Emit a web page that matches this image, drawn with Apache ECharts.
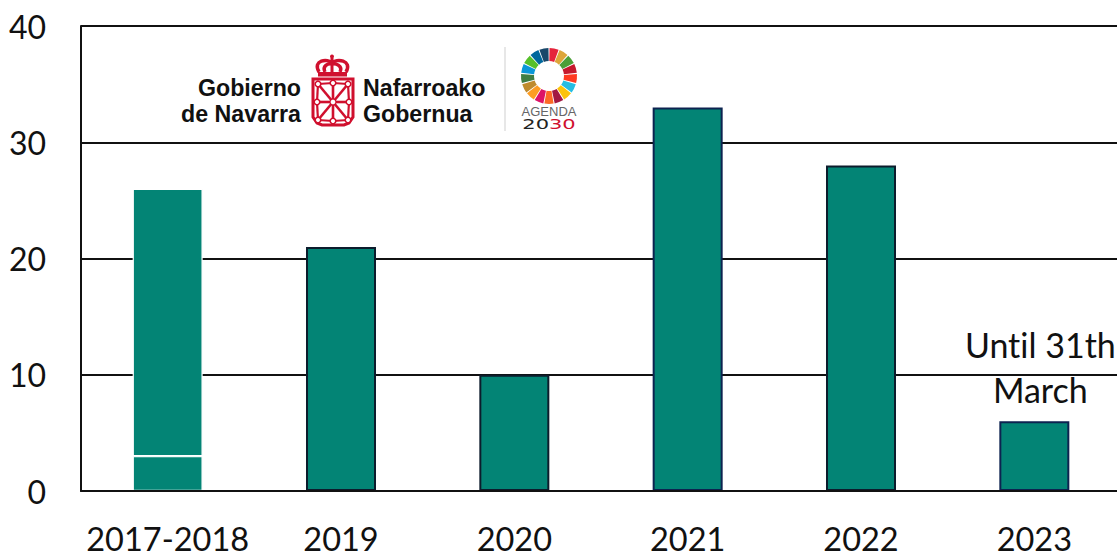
<!DOCTYPE html>
<html>
<head>
<meta charset="utf-8">
<title>Chart</title>
<script src="https://cdn.jsdelivr.net/npm/echarts@6/dist/echarts.min.js"></script>
<style>
html,body{margin:0;padding:0;background:#fff;}
#chart{width:1117px;height:553px;}
#chart text{font-variant-ligatures:none !important;}
</style>
</head>
<body>
<div id="chart"></div>
<script>
var categories = ['2017-2018', '2019', '2020', '2021', '2022', '2023'];
var lowerValues = [3, 21, 10, 33, 28, 6];
var upperValues = [23, null, null, null, null, null];
var borderColors = ['#ffffff', '#0c1c2c', '#0c1c2c', '#0d2350', '#0c1c2c', '#0d2350'];
var noteText = 'Until 31th\nMarch';
var sdgColors = ['#e5243b', '#dda63a', '#4c9f38', '#c5192d', '#ff3a21', '#26bde2', '#fcc30b', '#a21942', '#fd6925', '#dd1367', '#fd9d24', '#bf8b2e', '#3f7e44', '#0a97d9', '#56c02b', '#00689d', '#19486a'];

var teal = '#038475';
var red = '#d0102e';
// svg so the css above can switch off the Lato "ti" ligature
var chart = echarts.init(document.getElementById('chart'), null, {renderer: 'svg'});

function lowerData(){
	return lowerValues.map(function(v, i){
		var item = {value: v, itemStyle: {borderColor: borderColors[i], borderWidth: i == 0 ? 1.2 : 2}};
		if (i == 5){
			item.label = {
				show: true,
				position: 'top',
				offset: [6, -4],
				formatter: noteText,
				fontFamily: 'Lato',
				fontSize: 34,
				lineHeight: 45,
				color: '#111'
			};
		}
		return item;
	});
}

// logo, drawn as decoration above the plot
function logoParts(){
	var parts = [];
	var z = 10;
	function logoText(text, x, y, align){
		parts.push({type: 'text', z: z, style: {text: text, x: x, y: y, textAlign: align, textVerticalAlign: 'bottom',
			font: 'bold 23.2px "Liberation Sans"', fill: '#111'}});
	}
	logoText('Gobierno', 301, 99, 'right');
	logoText('de Navarra', 301, 125, 'right');
	logoText('Nafarroako', 363, 99, 'left');
	logoText('Gobernua', 363, 125, 'left');

	// shield
	parts.push({type: 'polygon', z: z, shape: {points: [[313, 79], [353, 79], [353, 117], [349, 123], [344, 125], [322, 125], [317, 123], [313, 117]]},
		style: {fill: '#fff', stroke: red, lineWidth: 3}});
	var cx = 333, cy = 102;
	var spokes = [[-15, -18], [15, -18], [-15, 18], [15, 18], [0, -19], [0, 19], [-16, 0], [16, 0]];
	spokes.forEach(function(s){
		parts.push({type: 'line', z: z, shape: {x1: cx, y1: cy, x2: cx + s[0], y2: cy + s[1]}, style: {stroke: red, lineWidth: 2.6}});
	});
	var ring = [[-15, -18], [0, -19], [15, -18], [16, 0], [15, 18], [0, 19], [-15, 18], [-16, 0]];
	ring.forEach(function(p, i){
		var q = ring[(i + 1) % ring.length];
		parts.push({type: 'line', z: z, shape: {x1: cx + p[0], y1: cy + p[1], x2: cx + q[0], y2: cy + q[1]}, style: {stroke: red, lineWidth: 2.2}});
	});
	spokes.forEach(function(s){
		parts.push({type: 'circle', z: z, shape: {cx: cx + s[0], cy: cy + s[1], r: 2.8}, style: {fill: '#fff', stroke: red, lineWidth: 1.6}});
	});
	parts.push({type: 'circle', z: z, shape: {cx: cx, cy: cy, r: 3}, style: {fill: '#fff', stroke: red, lineWidth: 1.2}});

	// crown
	var arches = [[319, 72, 312, 60, 328, 58, 332, 63], [346, 72, 353, 60, 336, 58, 332, 63], [325, 72, 322, 66, 328, 63, 332, 64], [340, 72, 343, 66, 336, 63, 332, 64]];
	arches.forEach(function(b){
		parts.push({type: 'bezierCurve', z: z, shape: {x1: b[0], y1: b[1], cpx1: b[2], cpy1: b[3], cpx2: b[4], cpy2: b[5], x2: b[6], y2: b[7]},
			style: {stroke: red, lineWidth: 3.5, fill: null}});
	});
	parts.push({type: 'line', z: z, shape: {x1: 332, y1: 58, x2: 332, y2: 73}, style: {stroke: red, lineWidth: 3}});
	parts.push({type: 'rect', z: z, shape: {x: 318, y: 72, width: 29, height: 4.5}, style: {fill: red}});
	parts.push({type: 'circle', z: z, shape: {cx: 332, cy: 56.5, r: 2}, style: {fill: red}});

	// divider
	parts.push({type: 'line', z: z, shape: {x1: 505, y1: 47, x2: 505, y2: 131}, style: {stroke: '#cfcfcf', lineWidth: 1}});

	// agenda 2030 wheel
	var step = Math.PI * 2 / sdgColors.length;
	sdgColors.forEach(function(c, i){
		var a = -Math.PI / 2 + i * step;
		parts.push({type: 'sector', z: z, shape: {cx: 549, cy: 76, r: 28, r0: 15, startAngle: a + 0.02, endAngle: a + step - 0.02}, style: {fill: c}});
	});
	parts.push({type: 'text', z: z, style: {text: 'AGENDA', x: 549, y: 111, textAlign: 'center', textVerticalAlign: 'middle',
		font: '13px "Liberation Sans"', fill: '#666'}});
	parts.push({type: 'text', z: z, scaleX: 1.5, originX: 549, originY: 124, style: {text: '20', x: 549, y: 124, textAlign: 'right', textVerticalAlign: 'middle',
		font: '14px "DejaVu Sans"', fill: '#222'}});
	parts.push({type: 'text', z: z, scaleX: 1.5, originX: 549, originY: 124, style: {text: '30', x: 549, y: 124, textAlign: 'left', textVerticalAlign: 'middle',
		font: '14px "DejaVu Sans"', fill: red}});
	return parts;
}

var option = {
	animation: false,
	backgroundColor: '#fff',
	grid: {left: 81, top: 26, bottom: 62, right: -4, containLabel: false, outerBoundsMode: 'none'},
	xAxis: {
		type: 'category',
		data: categories,
		axisLine: {lineStyle: {color: '#111', width: 2}},
		axisTick: {show: false},
		axisLabel: {margin: 31, fontFamily: 'Lato', fontSize: 32.5, color: '#111', interval: 0},
		z: 5
	},
	yAxis: {
		type: 'value',
		min: 0,
		max: 40,
		interval: 10,
		axisLine: {show: true, lineStyle: {color: '#111', width: 2}},
		axisTick: {show: false},
		axisLabel: {margin: 35, fontFamily: 'Lato', fontSize: 32, color: '#111'},
		splitLine: {lineStyle: {color: '#111', width: 2}}
	},
	series: [
		{
			name: 'Lower',
			type: 'bar',
			stack: 'total',
			barWidth: 70,
			data: lowerData(),
			itemStyle: {color: teal, borderWidth: 2}
		},
		{
			name: 'Upper',
			type: 'bar',
			stack: 'total',
			barWidth: 70,
			data: upperValues,
			itemStyle: {color: teal, borderColor: '#ffffff', borderWidth: 1.2}
		}
	],
	graphic: logoParts()
};
chart.setOption(option);
</script>
</body>
</html>
